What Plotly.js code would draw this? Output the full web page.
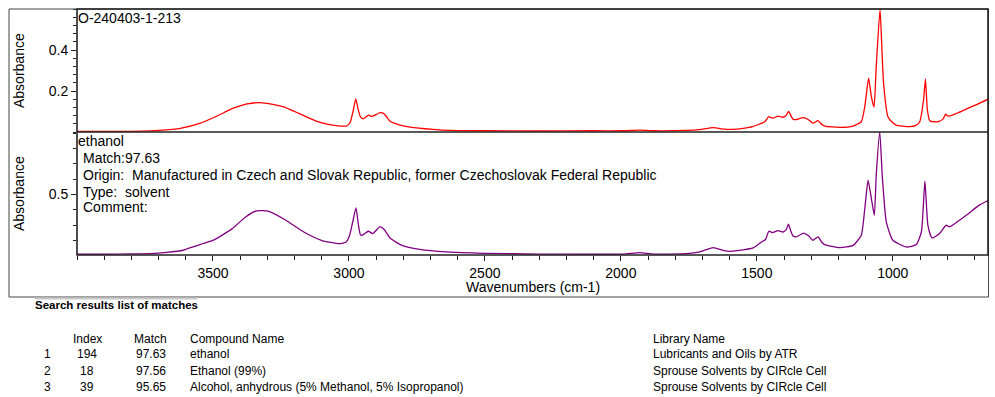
<!DOCTYPE html>
<html>
<head>
<meta charset="utf-8">
<script src="https://cdn.plot.ly/plotly-3.0.1.min.js"></script>
<style>
html,body{margin:0;padding:0;background:#fff;}
#chart{width:995px;height:397px;}
</style>
</head>
<body>
<div id="chart"></div>
<script>
// ---- Sample spectrum (top panel, red) ----
const sampleName = "O-240403-1-213";
const sampleWn = [4000,3850,3760,3700,3620,3546,3485,3425,3375,3330,3280,3240,3200,3160,3118,3080,3040,3010,2996,2985,2975,2966,2958,2948,2928,2916,2900,2886,2873,2860,2849,2812,2775,2691,2628,2500,2300,2100,1990,1930,1880,1760,1710,1661,1620,1589,1550,1516,1490,1471,1456,1448,1440,1422,1404,1392,1383,1375,1367,1357,1330,1310,1294,1275,1262,1250,1195,1146,1116,1103,1089,1079,1069,1061,1047,1040,1034,1018,1000,988,938,915,901,887,880,873,864,850,834,815,806,798,791,760,730,690,650];
const sampleAbs = [0.003,0.003,0.004,0.008,0.018,0.043,0.078,0.116,0.137,0.143,0.135,0.122,0.100,0.076,0.052,0.038,0.030,0.029,0.045,0.100,0.161,0.110,0.075,0.064,0.082,0.076,0.085,0.094,0.091,0.072,0.052,0.034,0.024,0.013,0.008,0.006,0.005,0.006,0.006,0.009,0.006,0.008,0.012,0.021,0.014,0.013,0.018,0.026,0.039,0.050,0.075,0.070,0.068,0.077,0.072,0.082,0.101,0.080,0.062,0.060,0.070,0.060,0.043,0.055,0.038,0.029,0.023,0.029,0.050,0.124,0.263,0.173,0.121,0.320,0.600,0.400,0.238,0.075,0.045,0.034,0.026,0.032,0.050,0.156,0.259,0.108,0.055,0.050,0.050,0.064,0.087,0.078,0.078,0.094,0.112,0.135,0.160];

// ---- Library match spectrum (bottom panel, purple) ----
const matchName = "ethanol";
const matchWn = [4000,3900,3800,3731,3670,3610,3570,3536,3494,3429,3380,3339,3297,3232,3166,3101,3035,3010,2998,2985,2974,2965,2957,2945,2929,2912,2887,2871,2860,2847,2805,2740,2642,2500,2300,2100,1990,1930,1880,1759,1710,1661,1620,1600,1550,1514,1483,1468,1456,1443,1422,1404,1392,1384,1375,1367,1355,1328,1310,1294,1275,1262,1251,1195,1146,1116,1103,1091,1079,1068,1061,1048,1039,1024,1000,950,914,895,882,871,856,828,813,804,791,760,730,682,650];
const matchAbs = [0.110,0.110,0.112,0.114,0.122,0.136,0.160,0.180,0.205,0.277,0.353,0.393,0.391,0.332,0.255,0.201,0.179,0.190,0.230,0.330,0.412,0.300,0.234,0.240,0.260,0.245,0.288,0.273,0.245,0.212,0.168,0.142,0.125,0.116,0.111,0.110,0.111,0.120,0.111,0.114,0.125,0.153,0.133,0.129,0.138,0.151,0.190,0.206,0.260,0.251,0.264,0.255,0.270,0.306,0.260,0.229,0.223,0.247,0.230,0.201,0.223,0.190,0.173,0.153,0.168,0.234,0.408,0.593,0.474,0.364,0.626,0.907,0.626,0.321,0.201,0.157,0.173,0.255,0.587,0.299,0.216,0.245,0.281,0.299,0.288,0.325,0.364,0.430,0.460];

const matchInfo = ["Match:97.63",
  "Origin:  Manufactured in Czech and Slovak Republic, former Czechoslovak Federal Republic",
  "Type:  solvent",
  "Comment:"];

// ---- Axis ticks ----
const xTickVals = [3500,3000,2500,2000,1500,1000];
const xTickText = ["3500","3000","2500","2000","1500","1000"];
const topYTickVals = [0.2,0.4];
const topYTickText = ["0.2","0.4"];
const botYTickVals = [0.5];
const botYTickText = ["0.5"];

// ---- Search results table ----
const tableTitle = "Search results list of matches";
const tableHeaders = ["Index","Match","Compound Name","Library Name"];
const ranks = ["1","2","3"];
const indices = ["194","18","39"];
const matchScores = ["97.63","97.56","95.65"];
const compounds = ["ethanol","Ethanol (99%)","Alcohol, anhydrous (5% Methanol, 5% Isopropanol)"];
const libraries = ["Lubricants and Oils by ATR","Sprouse Solvents by CIRcle Cell","Sprouse Solvents by CIRcle Cell"];

// ---- layout geometry (pixels) ----
const W = 995, H = 397;
const L = 77, R = 988, T = 9, B = 255;
const PW = R - L, PH = B - T;
const px = x => (x - L) / PW;
const py = y => (B - y) / PH;
const FONT = "Liberation Sans, Arial, Helvetica, sans-serif";

const traces = [
  {x: sampleWn, y: sampleAbs, xaxis: "x", yaxis: "y2", type: "scatter", mode: "lines",
   line: {color: "#ff0000", width: 1.3, shape: "spline", smoothing: 0.5}, hoverinfo: "skip"},
  {x: matchWn, y: matchAbs, xaxis: "x", yaxis: "y", type: "scatter", mode: "lines",
   line: {color: "#800080", width: 1.3, shape: "spline", smoothing: 0.5}, hoverinfo: "skip"}
];

const annotations = [];
function txt(text, x, y, opts) {
  annotations.push(Object.assign({
    text: text, xref: "paper", yref: "paper", x: px(x), y: py(y),
    xanchor: "left", yanchor: "middle", showarrow: false,
    font: {family: FONT, size: 14, color: "#000"}
  }, opts || {}));
}
// panel labels
txt(sampleName, 76, 18);
txt(matchName, 76, 141);
const infoY = [158, 175, 191.5, 207];
matchInfo.forEach((s, i) => txt(s, 81, infoY[i]));
// axis titles
txt("Absorbance", 18.5, 70.5, {xanchor: "center", textangle: -90});
txt("Absorbance", 18.5, 193.5, {xanchor: "center", textangle: -90});
txt("Wavenumbers (cm-1)", (L + R) / 2, 287, {xanchor: "center"});
// table
txt("<b>" + tableTitle + "</b>", 33, 305, {font: {family: FONT, size: 11.5, color: "#000"}});
const tf = {family: FONT, size: 12, color: "#000"};
const headY = 338.5, rowY = [354, 370.5, 387];
txt(tableHeaders[0], 87, headY, {xanchor: "center", font: tf});
txt(tableHeaders[1], 150.5, headY, {xanchor: "center", font: tf});
txt(tableHeaders[2], 188, headY, {font: tf});
txt(tableHeaders[3], 651, headY, {font: tf});
ranks.forEach((r, i) => {
  txt(r, 47.5, rowY[i], {xanchor: "center", font: tf});
  txt(indices[i], 87, rowY[i], {xanchor: "center", font: tf});
  txt(matchScores[i], 150.5, rowY[i], {xanchor: "center", font: tf});
  txt(compounds[i], 188, rowY[i], {font: tf});
  txt(libraries[i], 651, rowY[i], {font: tf});
});

const shapes = [
  // outer frame
  {type: "rect", xref: "paper", yref: "paper", x0: px(9), x1: px(988.5), y0: py(297), y1: py(9),
   line: {color: "#444", width: 1}, layer: "above"},
  // plot frame
  {type: "rect", xref: "paper", yref: "paper", x0: 0, x1: 1, y0: 0, y1: 1,
   line: {color: "#222", width: 1.6}, layer: "above"},
  // panel divider
  {type: "line", xref: "paper", yref: "paper", x0: 0, x1: 1, y0: 0.5, y1: 0.5,
   line: {color: "#222", width: 1.6}, layer: "above"},
  // grey bar under heading
  {type: "line", xref: "paper", yref: "paper", x0: px(35), x1: px(197), y0: py(298.5), y1: py(298.5),
   line: {color: "#c8c8c8", width: 2}}
];

const tickCommon = {ticks: "outside", tickcolor: "#222", tickwidth: 1, ticklen: 5,
  showgrid: false, zeroline: false, showline: false,
  tickfont: {family: FONT, size: 14, color: "#000"}};

const layout = {
  width: W, height: H,
  margin: {l: L, r: W - R, t: T, b: H - B, pad: 0},
  paper_bgcolor: "#fff", plot_bgcolor: "#fff",
  showlegend: false,
  xaxis: Object.assign({}, tickCommon, {
    range: [4000, 650], tickmode: "array", tickvals: xTickVals, ticktext: xTickText,
    anchor: "y", minor: {dtick: 100, tick0: 0, ticks: "outside", ticklen: 4, tickcolor: "#222", showgrid: false}
  }),
  yaxis: Object.assign({}, tickCommon, {
    domain: [0, 0.5], range: [0.105, 0.907], tickmode: "array", tickvals: botYTickVals, ticktext: botYTickText,
    anchor: "x", minor: {dtick: 0.1, tick0: 0, ticks: "outside", ticklen: 3, tickcolor: "#222", showgrid: false}
  }),
  yaxis2: Object.assign({}, tickCommon, {
    domain: [0.5, 1], range: [0, 0.6], tickmode: "array", tickvals: topYTickVals, ticktext: topYTickText,
    anchor: "x", minor: {dtick: 0.04, tick0: 0, ticks: "outside", ticklen: 3, tickcolor: "#222", showgrid: false}
  }),
  annotations: annotations,
  shapes: shapes
};

Plotly.newPlot("chart", traces, layout, {staticPlot: true, displayModeBar: false});
</script>
</body>
</html>
